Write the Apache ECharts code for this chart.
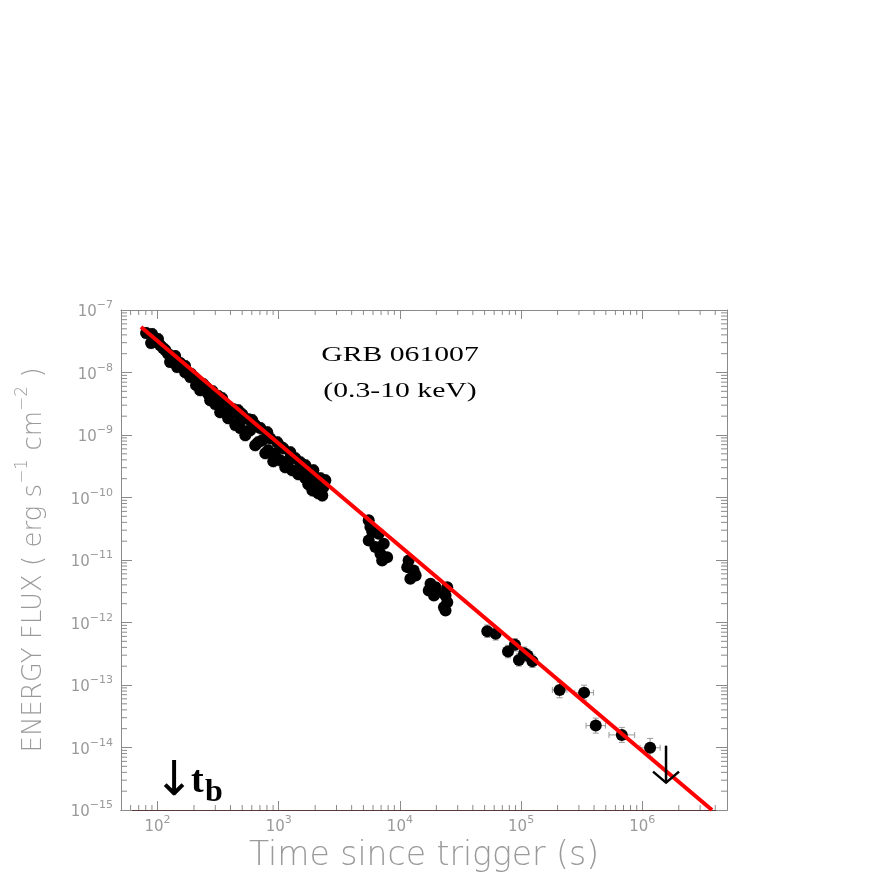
<!DOCTYPE html>
<html>
<head>
<meta charset="utf-8">
<script src="https://cdn.jsdelivr.net/npm/echarts@6/dist/echarts.min.js"></script>
<style>
html, body { margin: 0; padding: 0; background: #fff; }
#chart { width: 872px; height: 872px; }
</style>
</head>
<body>
<div id="chart"></div>
<script>
// axis ranges
const X_MIN = 50, X_MAX = 5e6, Y_MIN = 1e-15, Y_MAX = 1e-7

// early, densely sampled part of the light curve (s, erg s^-1 cm^-2)
const denseT = [90.2, 101, 88.5, 105, 116, 132, 127, 154, 145, 169, 186, 208, 225, 252, 272, 282,
  317, 299, 329, 362, 383, 422, 438, 463, 481, 530, 561, 582, 640, 640, 731, 775, 805, 902, 973,
  1091, 1133, 1247, 1371, 1452, 1507, 1660, 1660, 1932, 2005, 2208, 2334, 2123,
  80.5, 111, 140, 169, 205, 238, 262, 342, 398, 500, 481, 605, 705, 678, 851, 820, 1030, 1030,
  1247, 1294, 1567, 1824, 1754, 2123, 2427, 1897, 2291,
  122, 190, 285, 410, 560, 930, 1180, 1620, 2050]
const denseF = [4.12e-8, 3.43e-8, 2.96e-8, 2.75e-8, 2.29e-8, 1.77e-8, 1.47e-8, 1.42e-8, 1.22e-8,
  1.01e-8, 8.44e-9, 6.28e-9, 5.22e-9, 5.83e-9, 3.61e-9, 4.51e-9, 4.19e-9, 3.12e-9, 2.32e-9, 3.00e-9,
  1.86e-9, 2.59e-9, 1.44e-9, 2.50e-9, 1.73e-9, 9.93e-10, 1.79e-9, 1.19e-9, 1.44e-9, 6.87e-10,
  8.26e-10, 5.11e-10, 1.11e-9, 3.80e-10, 7.67e-10, 6.14e-10, 3.05e-10, 5.30e-10, 4.25e-10, 2.36e-10,
  3.66e-10, 3.28e-10, 2.03e-10, 2.73e-10, 1.75e-10, 2.03e-10, 1.46e-10, 1.17e-10,
  4.28e-8, 2.46e-8, 1.83e-8, 1.27e-8, 8.13e-9, 6.52e-9, 4.51e-9, 3.89e-9, 2.69e-9, 2.15e-9, 1.29e-9,
  1.73e-9, 1.29e-9, 7.67e-10, 8.89e-10, 5.70e-10, 6.62e-10, 3.94e-10, 4.25e-10, 2.73e-10, 3.16e-10,
  2.19e-10, 1.63e-10, 1.57e-10, 1.89e-10, 1.30e-10, 1.08e-10,
  2.0e-8, 9.5e-9, 5.0e-9, 2.2e-9, 1.15e-9, 5.0e-10, 3.6e-10, 2.6e-10, 1.4e-10]
const denseTErr = 0.01, denseFErr = 0.09   // dex

// second orbit onwards
const midT = [5530, 5710, 5930, 6690, 5530, 6280, 7360, 6910, 7140, 7850,
  11800, 11500, 13000, 12200, 13500, 17900, 19700, 17300, 19100, 20300, 24600, 23800, 24600, 23800, 23100]
const midF = [4.31e-11, 3.37e-11, 2.77e-11, 2.64e-11, 2.06e-11, 1.61e-11, 1.82e-11, 1.26e-11, 9.86e-12, 1.11e-11,
  9.86e-12, 7.69e-12, 6.81e-12, 5.01e-12, 5.66e-12, 4.17e-12, 3.68e-12, 3.26e-12, 2.71e-12, 3.06e-12,
  3.68e-12, 2.71e-12, 2.11e-12, 1.56e-12, 1.76e-12]
const midTErr = 0.02, midFErr = 0.07

const lateT = [52600, 61700, 89000, 78000, 106000, 96000, 124000, 113000, 208000, 331000, 413000, 678000, 1160000]
const lateF = [7.26e-13, 6.59e-13, 4.39e-13, 3.43e-13, 3.22e-13, 2.52e-13, 2.40e-13, 2.96e-13,
  8.34e-14, 7.55e-14, 2.24e-14, 1.59e-14, 9.9e-15]
const lateTErr = [0.04, 0.04, 0.04, 0.04, 0.04, 0.04, 0.04, 0.04, 0.06, 0.077, 0.08, 0.106, 0.083]
const lateFErr = [0.1, 0.1, 0.1, 0.1, 0.1, 0.1, 0.1, 0.1, 0.125, 0.12, 0.12, 0.12, 0.15]

// upper limit
const ulT = [1.57e6]
const ulF = [1.07e-14]

// power-law fit
const fitT = [73.1, 3.76e6]
const fitF = [5.34e-8, 1e-15]

// tick positions
const xDecadeExp = [1, 2, 3, 4, 5, 6]
const yDecadeExp = [-15, -14, -13, -12, -11, -10, -9, -8]
const minorMult = [2, 3, 4, 5, 6, 7, 8, 9]

const xMinor = []
xDecadeExp.forEach(e => minorMult.forEach(m => {
  const v = m * Math.pow(10, e)
  if (v > X_MIN && v < X_MAX) xMinor.push([v, Y_MIN])
}))
const yMinor = []
yDecadeExp.forEach(e => minorMult.forEach(m => yMinor.push([X_MIN, m * Math.pow(10, e)])))

const points = [], errs = []
denseT.forEach((t, i) => { points.push([t, denseF[i]]); errs.push([t, denseF[i], denseTErr, denseFErr]) })
midT.forEach((t, i) => { points.push([t, midF[i]]); errs.push([t, midF[i], midTErr, midFErr]) })
lateT.forEach((t, i) => { points.push([t, lateF[i]]); errs.push([t, lateF[i], lateTErr[i], lateFErr[i]]) })

const AXIS = '#8a8a8a', LABEL = '#9a9a9a', SANS = 'DejaVu Sans'
const tickStyle = { stroke: AXIS, lineWidth: 1 }

const expLabel = v => {
  const e = Math.round(Math.log10(v))
  return '{b|10}{s|' + (e < 0 ? '\u2212' + (-e) : e) + '}'
}
const labelRich = {
  b: { fontSize: 15, color: LABEL, fontFamily: SANS, padding: [5, 0, 0, 0], verticalAlign: 'bottom' },
  s: { fontSize: 11, color: LABEL, fontFamily: SANS, verticalAlign: 'top' },
}
const nameRich = {
  n: { fontSize: 26, color: LABEL, fontFamily: SANS, fontWeight: 200, padding: [7, 0, 0, 0], verticalAlign: 'bottom' },
  s: { fontSize: 17, color: LABEL, fontFamily: SANS, fontWeight: 200, verticalAlign: 'top' },
}

const logAxis = (extra) => Object.assign({
  type: 'log', logBase: 10,
  axisLine: { lineStyle: { color: AXIS, width: 1 } },
  axisTick: { inside: true, length: 9, lineStyle: { color: AXIS } },
  splitLine: { show: false },
}, extra)

function errItem(params, api) {
  const t = api.value(0), f = api.value(1)
  const kt = Math.pow(10, api.value(2)), kf = Math.pow(10, api.value(3))
  const l = api.coord([t / kt, f]), r = api.coord([t * kt, f])
  const hi = api.coord([t, f * kf]), lo = api.coord([t, f / kf])
  const c = 3, st = { stroke: '#9a9a9a', lineWidth: 1 }
  const seg = (x1, y1, x2, y2) => ({ type: 'line', shape: { x1, y1, x2, y2 }, style: st })
  return { type: 'group', children: [
    seg(l[0], l[1], r[0], r[1]), seg(l[0], l[1] - c, l[0], l[1] + c), seg(r[0], r[1] - c, r[0], r[1] + c),
    seg(hi[0], hi[1], lo[0], lo[1]), seg(hi[0] - c, hi[1], hi[0] + c, hi[1]), seg(lo[0] - c, lo[1], lo[0] + c, lo[1]),
  ] }
}

function xMinorItem(params, api) {
  const v = api.value(0)
  const b = api.coord([v, Y_MIN]), t = api.coord([v, Y_MAX])
  return { type: 'group', children: [
    { type: 'line', shape: { x1: b[0], y1: b[1], x2: b[0], y2: b[1] - 5 }, style: tickStyle },
    { type: 'line', shape: { x1: t[0], y1: t[1], x2: t[0], y2: t[1] + 5 }, style: tickStyle },
  ] }
}

function yMinorItem(params, api) {
  const v = api.value(1)
  const l = api.coord([X_MIN, v]), r = api.coord([X_MAX, v])
  return { type: 'group', children: [
    { type: 'line', shape: { x1: l[0], y1: l[1], x2: l[0] + 6, y2: l[1] }, style: tickStyle },
    { type: 'line', shape: { x1: r[0], y1: r[1], x2: r[0] - 6, y2: r[1] }, style: tickStyle },
  ] }
}

function ulItem(params, api) {
  const p = api.coord([api.value(0), api.value(1)])
  const len = 37, st = { stroke: '#000', lineWidth: 2.5 }
  return { type: 'group', children: [
    { type: 'line', shape: { x1: p[0], y1: p[1], x2: p[0], y2: p[1] + len }, style: st },
    { type: 'polyline', shape: { points: [[p[0] - 13, p[1] + len - 11], [p[0], p[1] + len], [p[0] + 13, p[1] + len - 11]] }, style: Object.assign({ fill: null }, st) },
  ] }
}

const chart = echarts.init(document.getElementById('chart'), null, { renderer: 'canvas' })
chart.setOption({
  animation: false,
  backgroundColor: '#fff',
  grid: { left: 121, top: 310, width: 606, height: 500, containLabel: false, outerBoundsMode: 'none' },
  xAxis: [
    logAxis({
      min: X_MIN, max: X_MAX, position: 'bottom',
      axisLine: { lineStyle: { color: '#5b3a3a', width: 1 } },
      axisLabel: { formatter: expLabel, rich: labelRich, margin: 5, showMinLabel: false, showMaxLabel: false },
      name: 'Time since trigger (s)', nameLocation: 'middle', nameGap: 27,
      nameTextStyle: { fontSize: 33, color: LABEL, fontFamily: SANS, fontWeight: 200 },
    }),
    logAxis({ min: X_MIN, max: X_MAX, position: 'top', axisLabel: { show: false } }),
  ],
  yAxis: [
    logAxis({
      min: Y_MIN, max: Y_MAX, position: 'left', splitNumber: 8,
      axisTick: { inside: true, length: 11, lineStyle: { color: AXIS } },
      axisLabel: { formatter: expLabel, rich: labelRich, margin: 8 },
      name: '{n|ENERGY FLUX ( erg s}{s|\u22121}{n| cm}{s|\u22122}{n| )}',
      nameLocation: 'middle', nameGap: 74,
      nameTextStyle: { rich: nameRich },
    }),
    logAxis({
      min: Y_MIN, max: Y_MAX, position: 'right', splitNumber: 8,
      axisTick: { inside: true, length: 11, lineStyle: { color: AXIS } },
      axisLabel: { show: false },
    }),
  ],
  series: [
    { type: 'custom', renderItem: xMinorItem, data: xMinor, silent: true, z: 1 },
    { type: 'custom', renderItem: yMinorItem, data: yMinor, silent: true, z: 1 },
    { type: 'custom', renderItem: errItem, data: errs, encode: { x: 0, y: 1 }, silent: true, z: 2 },
    { type: 'scatter', data: points, symbol: 'circle', symbolSize: 12, itemStyle: { color: '#000', opacity: 1 }, z: 3 },
    { type: 'line', data: fitT.map((t, i) => [t, fitF[i]]), showSymbol: false, lineStyle: { color: '#ff0000', width: 4 }, z: 4 },
    { type: 'custom', renderItem: ulItem, data: ulT.map((t, i) => [t, ulF[i]]), silent: true, z: 5 },
  ],
  graphic: [
    { type: 'text', x: 400, y: 355, scaleX: 1.35, z: 10,
      style: { text: 'GRB 061007', font: '22px "Liberation Serif"', fill: '#000', align: 'center', verticalAlign: 'middle' } },
    { type: 'text', x: 400, y: 391, scaleX: 1.35, z: 10,
      style: { text: '(0.3-10 keV)', font: '22px "Liberation Serif"', fill: '#000', align: 'center', verticalAlign: 'middle' } },
    { type: 'text', x: 174, y: 783, z: 10,
      style: { text: '\u2193', font: '48px "DejaVu Sans"', fill: '#000', align: 'center', verticalAlign: 'middle' } },
    { type: 'text', x: 191, y: 801, z: 10,
      style: { text: 't', font: 'bold 38px "Liberation Serif"', fill: '#000', align: 'left', verticalAlign: 'bottom' } },
    { type: 'text', x: 205, y: 809, z: 10,
      style: { text: 'b', font: 'bold 32px "Liberation Serif"', fill: '#000', align: 'left', verticalAlign: 'bottom' } },
  ],
})
</script>
</body>
</html>
